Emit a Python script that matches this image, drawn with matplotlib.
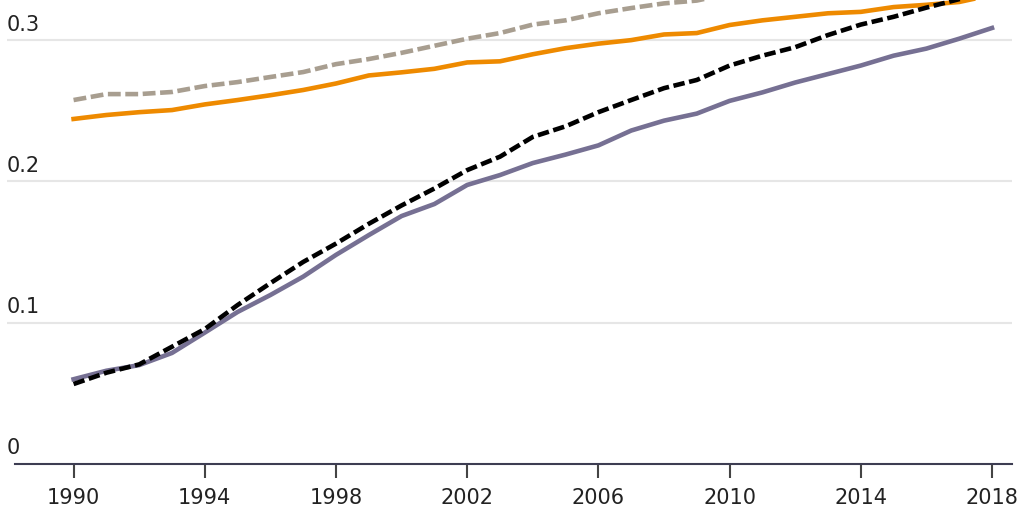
import matplotlib
matplotlib.use('Agg')
import matplotlib.pyplot as plt
import matplotlib.transforms as mtransforms

# 数据
years = list(range(1990, 2019))

purple = [0.060, 0.066, 0.070, 0.0786, 0.093, 0.1076, 0.1196, 0.1326, 0.148, 0.162,
          0.1755, 0.184, 0.1975, 0.2045, 0.213, 0.219, 0.2255, 0.236, 0.243, 0.248,
          0.257, 0.263, 0.270, 0.276, 0.282, 0.289, 0.294, 0.301, 0.3086]
black_dash = [0.0566, 0.0646, 0.0705, 0.083, 0.0955, 0.1125, 0.128, 0.143, 0.156, 0.170,
              0.183, 0.195, 0.208, 0.2175, 0.2315, 0.239, 0.249, 0.2576, 0.266, 0.2718,
              0.282, 0.289, 0.295, 0.3036, 0.311, 0.3165, 0.323, 0.329, 0.336]
orange = [0.2442, 0.247, 0.249, 0.2505, 0.2545, 0.2576, 0.261, 0.2647, 0.2693, 0.275,
          0.2772, 0.2797, 0.2842, 0.285, 0.290, 0.2943, 0.2975, 0.300, 0.304, 0.305,
          0.3107, 0.314, 0.3165, 0.319, 0.320, 0.3234, 0.325, 0.327, 0.332]
gray_dash = [0.2576, 0.2618, 0.2618, 0.2633, 0.2675, 0.2703, 0.2739, 0.2774, 0.283, 0.2866,
             0.291, 0.296, 0.301, 0.305, 0.311, 0.314, 0.319, 0.3227, 0.326, 0.328,
             0.333, 0.336, 0.340, 0.343, 0.347, 0.350, 0.353, 0.356, 0.360]

x_ticks = [1990, 1994, 1998, 2002, 2006, 2010, 2014, 2018]
y_ticks = [0, 0.1, 0.2, 0.3]
y_labels = ['0', '0.1', '0.2', '0.3']

plt.rcParams['font.family'] = ['DejaVu Sans']

fig = plt.figure(figsize=(10.24, 5.12), dpi=100)
ax = fig.add_axes([7 / 1024, 48 / 512, 1005 / 1024, 464 / 512])

ax.set_xlim(1987.97, 2018.61)
ax.set_ylim(0, 0.3284)

# 网格线
for v in y_ticks[1:]:
    ax.axhline(v, color='#e6e6e6', lw=1.5, zorder=0)

ax.plot(years, gray_dash, color='#a89e90', lw=3.3, ls=(0, (2.8, 1.0)), zorder=2)
ax.plot(years, orange, color='#ee8a00', lw=3.3, zorder=3)
ax.plot(years, purple, color='#767093', lw=3.3, zorder=3)
ax.plot(years, black_dash, color='black', lw=3.3, ls=(0, (2.5, 1.0)), zorder=4)

for s in ['top', 'right', 'left']:
    ax.spines[s].set_visible(False)
ax.spines['bottom'].set_color('#3d3d52')
ax.spines['bottom'].set_linewidth(1.5)
ax.spines['bottom'].set_bounds(1988.2, 2018.61)

ax.set_yticks([])
ax.set_xticks(x_ticks)
ax.set_xticklabels([str(t) for t in x_ticks], fontsize=15, color='#222222')
ax.tick_params(axis='x', length=10, width=1.5, color='#444444', pad=7)

# y轴标签放在网格线上方
trans = mtransforms.blended_transform_factory(ax.transAxes, ax.transData)
for v, lab in zip(y_ticks, y_labels):
    ax.annotate(lab, xy=(0, v), xycoords=trans, xytext=(0, 4), textcoords='offset points',
                ha='left', va='bottom', fontsize=15, color='#222222')

fig.savefig('out.png', dpi=100)
